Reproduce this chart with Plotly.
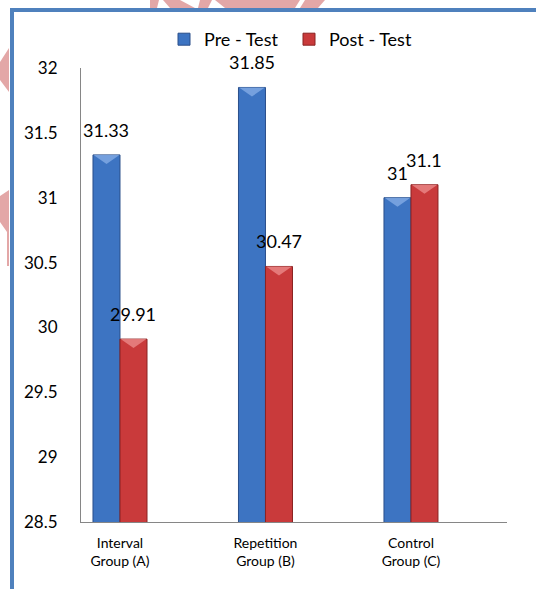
import plotly.graph_objects as go

# ---- data -------------------------------------------------------------
groups = ["Interval<br>Group (A)", "Repetition<br>Group (B)", "Control<br>Group (C)"]
pre_test = [31.33, 31.85, 31.0]
post_test = [29.91, 30.47, 31.1]
value_labels_pre = ["31.33", "31.85", "31"]
value_labels_post = ["29.91", "30.47", "31.1"]
y_ticks = [28.5, 29, 29.5, 30, 30.5, 31, 31.5, 32]

# ---- layout geometry --------------------------------------------------
W, H = 536, 589
ML, MR, MT, MB = 81, 29, 68, 67
PW, PH = W - ML - MR, H - MT - MB
X_RANGE = [-0.268, 2.66]
Y_RANGE = [28.5, 32]
BAR_W = 0.1856

BLUE, BLUE_EDGE, BLUE_TOP = "#3D74C2", "#2A4F8A", "#7FA8E3"
RED, RED_EDGE, RED_TOP = "#C93A3B", "#8A2222", "#E98585"
FONT = "Lato"


def px_x(p):
    return (p - ML) / PW


def px_y(p):
    return (H - MB - p) / PH


xs = list(range(len(groups)))

fig = go.Figure()
fig.add_trace(go.Bar(
    name="Pre - Test", x=xs, y=pre_test, width=BAR_W, offset=-BAR_W,
    marker=dict(color=BLUE, line=dict(color=BLUE_EDGE, width=1)),
))
fig.add_trace(go.Bar(
    name="Post - Test", x=xs, y=post_test, width=BAR_W, offset=0,
    marker=dict(color=RED, line=dict(color=RED_EDGE, width=1)),
))

shapes = []
annotations = []
y_per_px = (Y_RANGE[1] - Y_RANGE[0]) / PH

# bevelled bar tops and value labels
for vals, labels, off, top_col in [
    (pre_test, value_labels_pre, -BAR_W, BLUE_TOP),
    (post_test, value_labels_post, 0.0, RED_TOP),
]:
    for i, (v, lab) in enumerate(zip(vals, labels)):
        x0 = i + off
        x1 = x0 + BAR_W
        xc = (x0 + x1) / 2
        dip = 9 * y_per_px
        shapes.append(dict(
            type="path", xref="x", yref="y", layer="above",
            path=f"M {x0+0.004},{v} L {x1-0.004},{v} L {xc},{v-dip} Z",
            fillcolor=top_col, line=dict(width=0), opacity=0.85,
        ))
        annotations.append(dict(
            x=xc, y=v, xref="x", yref="y", text=lab, showarrow=False,
            yanchor="bottom", yshift=12,
            font=dict(family=FONT, size=18, color="#000000"),
        ))

# faint background ornament around the frame
WM = "#E3A7A7"
wm_polys = [
    [(0, 62), (9, 48), (9, 92), (0, 80)],
    [(0, 196), (9, 190), (9, 266), (7, 266), (7, 232), (0, 222)],
    [(150, 0), (159, 0), (157, 8), (150, 8)],
    [(163, 0), (180, 0), (195, 8), (170, 8)],
    [(200, 0), (212, 0), (208, 8), (198, 8)],
    [(215, 0), (300, 0), (295, 8), (225, 8)],
    [(305, 0), (325, 0), (318, 8), (300, 8)],
]
for poly in wm_polys:
    d = "M " + " L ".join(f"{px_x(px)},{px_y(py)}" for px, py in poly) + " Z"
    shapes.append(dict(type="path", xref="paper", yref="paper", path=d,
                       fillcolor=WM, line=dict(width=0), layer="below"))

# blue outer frame
shapes.append(dict(
    type="rect", xref="paper", yref="paper",
    x0=px_x(12), x1=px_x(570), y0=px_y(620), y1=px_y(10),
    line=dict(color="#4F81BD", width=4), fillcolor="rgba(0,0,0,0)",
    layer="above",
))

fig.update_layout(
    width=W, height=H,
    margin=dict(l=ML, r=MR, t=MT, b=MB),
    paper_bgcolor="white", plot_bgcolor="white",
    barmode="group",
    font=dict(family=FONT, color="#000000"),
    showlegend=True,
    legend=dict(
        orientation="h", x=px_x(164), xanchor="left", y=px_y(21), yanchor="top",
        font=dict(family=FONT, size=18), itemwidth=30, entrywidth=80,
        bgcolor="rgba(0,0,0,0)",
    ),
    shapes=shapes,
    annotations=annotations,
)
fig.update_xaxes(
    range=X_RANGE, tickvals=xs, ticktext=groups,
    showline=True, linecolor="#868686", linewidth=1,
    showgrid=False, zeroline=False, ticks="",
    tickfont=dict(family=FONT, size=14),
    ticklabelstandoff=8,
)
fig.update_yaxes(
    range=Y_RANGE, tickvals=y_ticks, ticktext=[f"{t:g}" for t in y_ticks],
    showline=True, linecolor="#868686", linewidth=1,
    showgrid=False, zeroline=False, ticks="",
    tickfont=dict(family=FONT, size=17),
    ticklabelstandoff=19,
)

fig.write_html("out.html")
